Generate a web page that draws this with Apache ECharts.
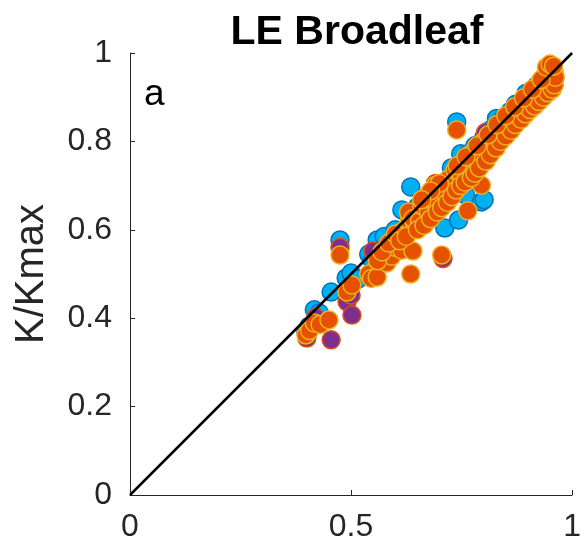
<!DOCTYPE html>
<html>
<head>
<meta charset="utf-8">
<script src="https://cdn.jsdelivr.net/npm/echarts@6/dist/echarts.min.js"></script>
<style>html,body{margin:0;padding:0;background:#fff}#c{width:584px;height:552px}</style>
</head>
<body>
<div id="c"></div>
<script>
const titleText = 'LE Broadleaf';
const yLabel = 'K/Kmax';
const panelLetter = 'a';
const xTicks = [0, 0.5, 1];
const yTicks = [0, 0.2, 0.4, 0.6, 0.8, 1];
const oneToOne = [[0, 0], [1, 1]];

const blueSeries = [
  [0.398,0.369],[0.405,0.382],[0.417,0.419],[0.428,0.412],[0.455,0.459],[0.475,0.577],
  [0.489,0.491],[0.500,0.502],[0.515,0.488],[0.540,0.545],[0.548,0.530],[0.559,0.577],
  [0.575,0.585],[0.600,0.600],[0.615,0.645],[0.635,0.697],[0.650,0.652],[0.662,0.664],
  [0.680,0.684],[0.700,0.704],[0.712,0.604],[0.727,0.740],[0.743,0.622],[0.739,0.844],
  [0.748,0.772],[0.759,0.679],[0.765,0.772],[0.780,0.790],[0.795,0.663],[0.801,0.668],
  [0.800,0.808],[0.815,0.826],[0.829,0.852],[0.842,0.850],[0.860,0.868],[0.872,0.884],
  [0.883,0.888],[0.896,0.909],[0.906,0.912],[0.920,0.926],[0.932,0.938],[0.942,0.948],
  [0.952,0.958]
];
const purpleSeries = [
  [0.400,0.355],[0.455,0.351],[0.420,0.402],[0.475,0.560],[0.491,0.437],[0.502,0.407],
  [0.500,0.452],[0.550,0.552],[0.581,0.559],[0.600,0.582],[0.620,0.585],[0.640,0.602],
  [0.660,0.622],[0.708,0.535],[0.691,0.705],[0.700,0.682],[0.720,0.702],[0.740,0.722],
  [0.760,0.742],[0.780,0.778],[0.804,0.820],[0.820,0.812],[0.840,0.832],[0.860,0.852],
  [0.880,0.872],[0.900,0.892],[0.920,0.912],[0.940,0.932],[0.950,0.950]
];
const orangeSeries = [
  [0.398,0.362],[0.406,0.372],[0.417,0.389],[0.430,0.386],[0.450,0.396],[0.475,0.543],
  [0.491,0.459],[0.502,0.475],[0.540,0.500],[0.546,0.490],[0.559,0.493],[0.581,0.525],
  [0.592,0.540],[0.600,0.560],[0.608,0.584],[0.615,0.554],[0.635,0.500],[0.640,0.552],
  [0.620,0.600],[0.632,0.620],[0.645,0.610],[0.652,0.640],[0.662,0.630],[0.672,0.660],
  [0.682,0.650],[0.690,0.680],[0.700,0.670],[0.705,0.543],[0.710,0.700],[0.720,0.690],
  [0.730,0.720],[0.739,0.826],[0.742,0.712],[0.750,0.740],[0.764,0.643],[0.762,0.730],
  [0.772,0.760],[0.782,0.750],[0.790,0.780],[0.795,0.701],[0.800,0.770],[0.805,0.792],
  [0.812,0.800],[0.822,0.792],[0.830,0.820],[0.842,0.822],[0.850,0.840],[0.860,0.850],
  [0.870,0.860],[0.880,0.872],[0.890,0.880],[0.900,0.890],[0.910,0.902],[0.920,0.912],
  [0.930,0.922],[0.940,0.935],[0.945,0.950],[0.952,0.945],[0.955,0.960],[0.960,0.955],
  [0.950,0.925],
  [0.560,0.530],[0.570,0.550],[0.585,0.570],[0.600,0.590],[0.610,0.575],[0.625,0.585],
  [0.630,0.640],[0.640,0.625],[0.655,0.620],[0.660,0.655],[0.670,0.675],[0.675,0.640],
  [0.685,0.665],[0.690,0.700],[0.695,0.655],[0.705,0.690],[0.715,0.680],[0.720,0.715],
  [0.725,0.700],[0.735,0.735],[0.745,0.730],[0.750,0.720],[0.755,0.755],[0.765,0.745],
  [0.770,0.735],[0.775,0.775],[0.785,0.765],[0.797,0.762],[0.800,0.800],[0.810,0.785],
  [0.815,0.810],[0.825,0.805],[0.835,0.830],[0.845,0.840],[0.855,0.830],[0.865,0.865],
  [0.875,0.855],[0.885,0.885],[0.895,0.875],[0.905,0.905],[0.915,0.895],[0.925,0.930],
  [0.935,0.915],[0.940,0.950],[0.948,0.938],[0.955,0.965],[0.960,0.940],[0.945,0.960],
  [0.938,0.945],
  [0.650,0.600],[0.665,0.610],[0.680,0.625],[0.695,0.640],[0.705,0.650],[0.718,0.662],
  [0.728,0.675],[0.738,0.690],[0.748,0.700],[0.758,0.708],[0.772,0.718],[0.780,0.728],
  [0.790,0.740],[0.805,0.755],[0.815,0.770],[0.828,0.785],[0.838,0.800],[0.850,0.812],
  [0.862,0.825],[0.872,0.838],[0.885,0.850],[0.895,0.862],[0.905,0.872],[0.915,0.880],
  [0.925,0.890],[0.935,0.900],[0.945,0.910],[0.955,0.918],[0.960,0.928],[0.962,0.945],
  [0.740,0.745],[0.760,0.765],[0.785,0.790],[0.810,0.815],[0.830,0.838],[0.850,0.858],
  [0.870,0.878],[0.890,0.898],[0.910,0.918],[0.930,0.940],[0.942,0.968],[0.950,0.975],
  [0.958,0.970],[0.700,0.705],[0.680,0.688],[0.660,0.668]
];

const chart = echarts.init(document.getElementById('c'), null, {renderer: 'canvas'});
const axisCol = '#262626';
const font = 'Liberation Sans, Arial, Helvetica, sans-serif';
function scatter(data, fill, edge) {
  return {
    type: 'scatter', data: data, symbol: 'circle', symbolSize: 18,
    itemStyle: {color: fill, borderColor: edge, borderWidth: 1.5, opacity: 1},
    emphasis: {disabled: true}, z: 2
  };
}
chart.setOption({
  animation: false,
  title: {
    text: titleText, left: 352, top: 7, textAlign: 'center',
    textStyle: {fontFamily: font, fontWeight: 'bold', fontSize: 41, color: '#000'}
  },
  graphic: [{
    type: 'text', left: 144, top: 76,
    style: {text: panelLetter, font: '37px ' + font, fill: '#000'}
  }],
  grid: {left: 130, right: 10, top: 53, bottom: 57},
  xAxis: {
    type: 'value', min: 0, max: 1, interval: 0.5,
    axisLine: {show: true, lineStyle: {color: axisCol, width: 1}},
    axisTick: {show: true, inside: true, length: 5, lineStyle: {color: axisCol}},
    splitLine: {show: false},
    axisLabel: {color: '#262626', fontSize: 32, fontFamily: font, margin: 16,
      formatter: v => (xTicks.includes(v) ? String(v) : '')}
  },
  yAxis: {
    type: 'value', min: 0, max: 1, interval: 0.2,
    name: yLabel, nameLocation: 'middle', nameGap: 78,
    nameTextStyle: {color: '#262626', fontSize: 40, fontFamily: font},
    axisLine: {show: true, lineStyle: {color: axisCol, width: 1}},
    axisTick: {show: true, inside: true, length: 5, lineStyle: {color: axisCol}},
    splitLine: {show: false},
    axisLabel: {color: '#262626', fontSize: 32, fontFamily: font, margin: 18,
      formatter: v => { const t = yTicks.find(k => Math.abs(k - v) < 1e-9); return t === undefined ? '' : String(t); }}
  },
  series: [
    scatter(blueSeries, '#00b0f0', '#0072bd'),
    scatter(purpleSeries, '#7e2f8e', '#d95319'),
    scatter(orangeSeries, '#e65100', '#edb120'),
    {type: 'line', data: oneToOne, symbol: 'none', z: 5,
     lineStyle: {color: '#000', width: 2.5}, emphasis: {disabled: true}}
  ]
});
</script>
</body>
</html>
